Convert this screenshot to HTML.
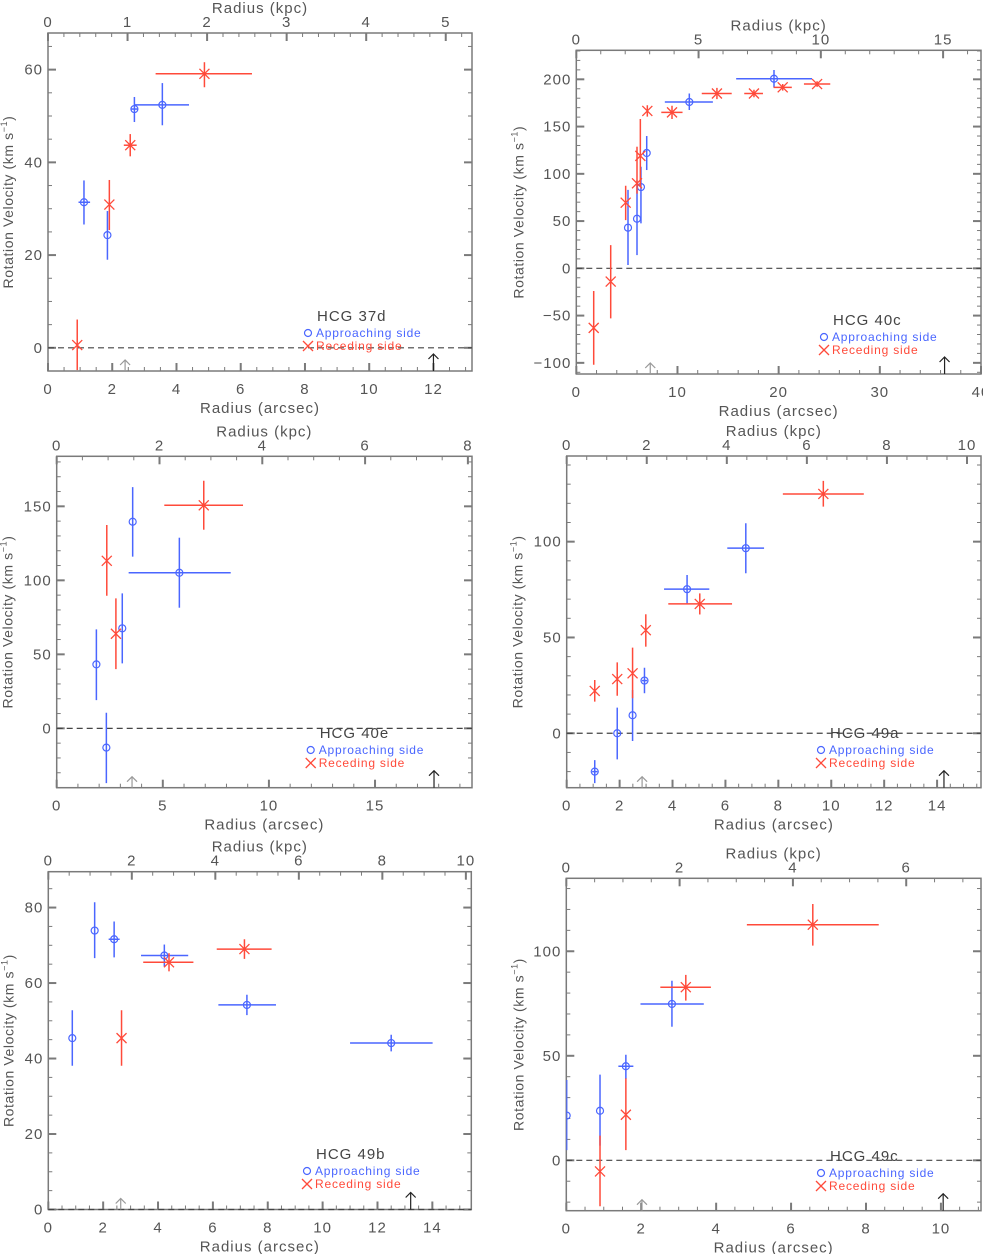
<!DOCTYPE html>
<html><head><meta charset="utf-8">
<style>
html,body{margin:0;padding:0;background:#fff;}
svg{display:block;font-family:"Liberation Sans",sans-serif;}
</style></head>
<body>
<svg id="fig" width="983" height="1254" viewBox="0 0 983 1254" xmlns="http://www.w3.org/2000/svg"></svg>
<script>
// Data: [radius_arcsec, velocity, rLo, rHi, vLo, vHi] (null = no bar)
const hcg37d_appr = [[1.12,31.4,0.95,1.31,26.6,36.1],[1.85,24.3,null,null,19.0,29.5],[2.69,51.5,2.59,2.79,48.7,54.1],[3.56,52.4,2.69,4.39,48.0,57.1]];
const hcg37d_rec = [[0.91,0.6,null,null,-4.8,6.1],[1.91,30.9,null,null,25.4,36.2],[2.56,43.7,2.36,2.76,41.3,46.1],[4.87,59.1,3.35,6.35,56.2,61.6]];
const hcg40c_appr = [[5.11,43,null,null,3.5,83],[6.0,52.5,null,null,14,93],[6.39,86,null,null,47.6,107.5],[6.96,122,null,null,104,140],[11.17,176,8.75,13.5,167.5,185],[19.54,200.6,15.8,23.3,191.5,209.8]];
const hcg40c_rec = [[1.72,-63,null,null,-102,-24],[3.4,-14,null,null,-53,24.6],[4.88,69.5,null,null,51,87.4],[6.0,90,null,null,79,128.7],[6.33,119,null,null,86,158],[7.02,166.5,null,null,160.5,172.5],[9.46,165,8.4,10.5,158,172],[13.9,185,12.4,15.36,179,191],[17.56,185,16.6,18.45,181,189],[20.4,191.5,19.5,21.3,188,195],[23.8,195,22.5,25.1,192,198]];
const hcg40e_appr = [[1.87,43.2,null,null,19.1,66.9],[2.34,-13,null,null,-37,10.5],[3.09,67.6,null,null,43.9,91.2],[3.58,139.6,null,null,116,163],[5.78,105.1,3.39,8.2,81.5,128.8]];
const hcg40e_rec = [[2.36,113.2,null,null,89.6,137.4],[2.79,63.9,null,null,40,87.8],[6.93,150.7,5.07,8.78,134.2,167.3]];
const hcg49a_appr = [[1.06,-20,0.96,1.16,-26,-14],[1.91,0,null,null,-13.6,13.4],[2.49,9.4,null,null,-4,22.6],[2.94,27.5,2.84,3.04,20.9,34.2],[4.55,75.2,3.68,5.39,67.8,82.6],[6.77,96.6,6.07,7.46,83.5,109.6]];
const hcg49a_rec = [[1.06,22.1,null,null,16.5,27.8],[1.91,28.3,null,null,19.6,37],[2.49,31.3,null,null,18.3,44.7],[2.99,53.8,null,null,45.2,62.1],[5.03,67.5,3.84,6.25,62,73],[9.7,124.9,8.17,11.23,118.3,131.7]];
const hcg49b_appr = [[0.875,45.4,null,null,38.1,52.8],[1.69,73.9,null,null,66.6,81.4],[2.40,71.6,2.2,2.6,66.8,76.3],[4.23,67.3,3.38,5.1,64.4,70.2],[7.24,54.2,6.2,8.3,51.5,56.9],[12.5,44.1,11.0,14.01,41.9,46.3]];
const hcg49b_rec = [[2.67,45.4,null,null,38.1,52.8],[4.40,65.5,3.46,5.29,63.1,67.9],[7.15,69.0,6.14,8.14,66.4,71.6]];
const hcg49c_appr = [[0.01,21.4,null,null,4.9,38.4],[0.9,23.7,null,null,7,41],[1.59,45,1.39,1.79,38.9,50.5],[2.82,74.8,1.98,3.67,63.9,85.9]];
const hcg49c_rec = [[0.9,-5.3,null,null,-22,11.8],[1.59,21.8,null,null,4.9,39.2],[3.19,82.8,2.51,3.86,76.4,88.7],[6.58,112.7,4.82,8.34,102.7,122.6]];

const NS="http://www.w3.org/2000/svg";
const svg=document.getElementById('fig');
const BLUE="#4a66ff", RED="#ff4a3a", AX="#7a7a7a", TXT="#555";
function mk(tag,attrs,parent){const e=document.createElementNS(NS,tag);for(const k in attrs)e.setAttribute(k,attrs[k]);(parent||svg).appendChild(e);return e;}
function fmt(v){return v<0?"\u2212"+Math.abs(v):String(v);}

function panel(c,appr,rec){
  const g=mk('g',{});
  
  
  const X=r=>c.L+(r-c.x0)/(c.x1-c.x0)*(c.R-c.L);
  const Y=v=>c.B-(v-c.y0)/(c.y1-c.y0)*(c.B-c.T);
  const K=k=>c.L+k/c.kmax*(c.R-c.L);
  const f=mk('rect',{x:c.L,y:c.T,width:c.R-c.L,height:c.B-c.T,fill:'none',stroke:AX,'stroke-width':1.5},g);
  
  
  const eps=1e-6;
  for(let v=0;v<=c.x1+eps;v+=c.xMin){
    const maj=Math.abs(v/c.xMaj-Math.round(v/c.xMaj))<1e-4;
    mk('line',{x1:X(v),x2:X(v),y1:c.B,y2:c.B-(maj?8:4),stroke:AX,'stroke-width':maj?2:1},g);
    if(maj){const t=mk('text',{x:X(v),y:c.B+23,'text-anchor':'middle','font-size':15,fill:TXT,'letter-spacing':1},g);t.textContent=fmt(Math.round(v*100)/100);
      
      }
  }
  for(let v=0;v<=c.kmax+eps;v+=c.kMin){
    const maj=Math.abs(v/c.kMaj-Math.round(v/c.kMaj))<1e-4;
    mk('line',{x1:K(v),x2:K(v),y1:c.T,y2:c.T+(maj?8:4),stroke:AX,'stroke-width':maj?2:1},g);
    if(maj){const t=mk('text',{x:K(v),y:c.T-6,'text-anchor':'middle','font-size':15,fill:TXT,'letter-spacing':1},g);t.textContent=String(Math.round(v*100)/100);
      
      }
  }
  const ys=Math.ceil(c.y0/c.yMin)*c.yMin;
  for(let v=ys;v<=c.y1+eps;v+=c.yMin){
    const maj=Math.abs(v/c.yMaj-Math.round(v/c.yMaj))<1e-4;
    const w=maj?2:1,l=maj?8:4;
    mk('line',{x1:c.L,x2:c.L+l,y1:Y(v),y2:Y(v),stroke:AX,'stroke-width':w},g);
    mk('line',{x1:c.R,x2:c.R-l,y1:Y(v),y2:Y(v),stroke:AX,'stroke-width':w},g);
    if(maj){const t=mk('text',{x:c.L-5,y:Y(v)+5,'text-anchor':'end','font-size':15,fill:TXT,'letter-spacing':1},g);t.textContent=fmt(Math.round(v));
      
      }
  }
  const tt=mk('text',{x:(c.L+c.R)/2,y:c.T-20,'text-anchor':'middle','font-size':15,fill:TXT,'letter-spacing':1},g);tt.textContent="Radius (kpc)";
  
  
  const bt=mk('text',{x:(c.L+c.R)/2,y:c.B+42,'text-anchor':'middle','font-size':15,fill:TXT,'letter-spacing':1},g);bt.textContent="Radius (arcsec)";
  
  
  const yc=(c.T+c.B)/2, yx=c.L-c.yOff+5;
  const yt=mk('text',{x:yx,y:yc,'text-anchor':'middle','font-size':14,fill:TXT,'letter-spacing':0.6,transform:`rotate(-90 ${yx} ${yc})`},g);
  yt.innerHTML='Rotation Velocity (km s<tspan font-size="9" dy="-6">\u22121</tspan><tspan dy="6">)</tspan>';
  
  
  const z=mk('line',{x1:c.L,x2:c.R,y1:Y(0),y2:Y(0),stroke:'#444','stroke-width':1.2,'stroke-dasharray':'6,4'},g);
  
  
  const arrow=(r,col,len,nm)=>{const a=mk('g',{},g);
    const x=X(r);mk('line',{x1:x,x2:x,y1:c.B,y2:c.B-len,stroke:col,'stroke-width':1.2},a);
    mk('polyline',{points:`${x-5},${c.B-len+5} ${x},${c.B-len} ${x+5},${c.B-len+5}`,fill:'none',stroke:col,'stroke-width':1.2},a);};
  arrow(c.grayA,'#999',11,'gray-radius-arrow');
  arrow(c.blackA,'#222',17,'black-radius-arrow');
  const clipId='clip'+c.id;
  const cp=mk('clipPath',{id:clipId},g);mk('rect',{x:c.L,y:c.T,width:c.R-c.L,height:c.B-c.T},cp);
  const pts=mk('g',{'clip-path':`url(#${clipId})`},g);
  const draw=(arr,col,type)=>{arr.forEach(p=>{
    const pg=mk('g',{},pts);
    
    
    const x=X(p[0]),y=Y(p[1]);
    if(p[4]!==null)mk('line',{x1:x,x2:x,y1:Y(p[4]),y2:Y(p[5]),stroke:col,'stroke-width':1.5},pg);
    if(p[2]!==null)mk('line',{x1:X(p[2]),x2:X(p[3]),y1:y,y2:y,stroke:col,'stroke-width':1.5},pg);
    if(type==='o')mk('circle',{cx:x,cy:y,r:3.5,fill:'none',stroke:col,'stroke-width':1.2},pg);
    else mk('path',{d:`M${x-5},${y-5}L${x+5},${y+5}M${x-5},${y+5}L${x+5},${y-5}`,stroke:col,'stroke-width':1.3},pg);
  });};
  draw(appr,BLUE,'o');draw(rec,RED,'x');
  const lg=mk('g',{},g);
  const lt=mk('text',{x:c.legX+9,y:c.legY-12,'font-size':15,fill:'#444','letter-spacing':1},lg);lt.textContent=c.name;
  
  
  mk('circle',{cx:c.legX,cy:c.legY,r:3.5,fill:'none',stroke:BLUE,'stroke-width':1.2},lg);
  const a1=mk('text',{x:c.legX+8,y:c.legY+4,'font-size':12,fill:BLUE,'letter-spacing':0.8},lg);a1.textContent="Approaching side";
  
  
  const y2=c.legY+13;
  mk('path',{d:`M${c.legX-5},${y2-5}L${c.legX+5},${y2+5}M${c.legX-5},${y2+5}L${c.legX+5},${y2-5}`,stroke:RED,'stroke-width':1.3},lg);
  const a2=mk('text',{x:c.legX+8,y:y2+4,'font-size':12,fill:RED,'letter-spacing':0.8},lg);a2.textContent="Receding side";
  
  
}

panel({id:'37d',name:'HCG 37d',L:48,T:33,R:472,B:371,x0:0,x1:13.2,y0:-5,y1:67.9,kmax:5.33,xMaj:2,xMin:0.5,yMaj:20,yMin:5,kMaj:1,kMin:0.2,yOff:40,legX:308,legY:333,grayA:2.4,blackA:12.0},hcg37d_appr,hcg37d_rec);
panel({id:'40c',name:'HCG 40c',L:576.3,T:50.3,R:981,B:374,x0:0,x1:40,y0:-111.8,y1:230.7,kmax:16.55,xMaj:10,xMin:2,yMaj:50,yMin:10,kMaj:5,kMin:1,yOff:58,legX:824,legY:337,grayA:7.31,blackA:36.4},hcg40c_appr,hcg40c_rec);
panel({id:'40e',name:'HCG 40e',L:56.7,T:456.3,R:472,B:787.7,x0:0,x1:19.57,y0:-40.1,y1:183.8,kmax:8.08,xMaj:5,xMin:1,yMaj:50,yMin:10,kMaj:2,kMin:0.5,yOff:49,legX:310.7,legY:750,grayA:3.55,blackA:17.78},hcg40e_appr,hcg40e_rec);
panel({id:'49a',name:'HCG 49a',L:566.7,T:456,R:981,B:787.7,x0:0,x1:15.66,y0:-28.4,y1:144.7,kmax:10.35,xMaj:2,xMin:0.5,yMaj:50,yMin:10,kMaj:2,kMin:0.5,yOff:49,legX:821,legY:750,grayA:2.85,blackA:14.26},hcg49a_appr,hcg49a_rec);
panel({id:'49b',name:'HCG 49b',L:48.3,T:871.7,R:471.3,B:1209.5,x0:0,x1:15.42,y0:0,y1:89.5,kmax:10.13,xMaj:2,xMin:0.5,yMaj:20,yMin:5,kMaj:2,kMin:0.5,yOff:40,legX:307,legY:1171,grayA:2.64,blackA:13.21},hcg49b_appr,hcg49b_rec);
panel({id:'49c',name:'HCG 49c',L:566.3,T:878.3,R:981,B:1210.7,x0:0,x1:11.07,y0:-24.1,y1:134.9,kmax:7.32,xMaj:2,xMin:0.5,yMaj:50,yMin:10,kMaj:2,kMin:0.5,yOff:48,legX:821,legY:1173,grayA:2.02,blackA:10.06},hcg49c_appr,hcg49c_rec);
</script>
</body></html>
